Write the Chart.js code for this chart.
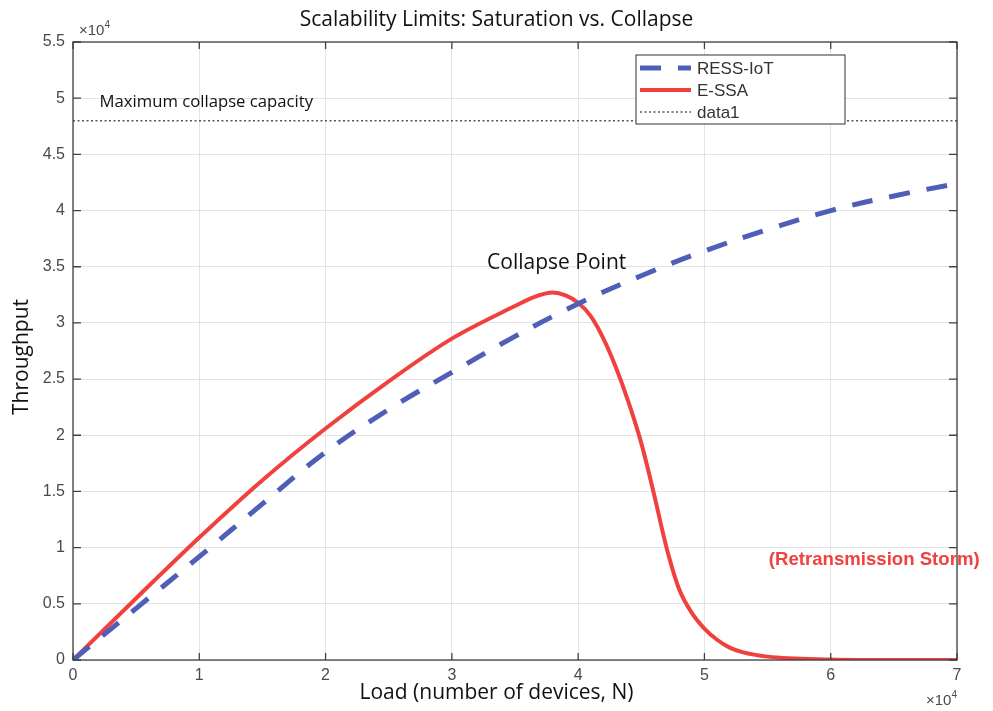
<!DOCTYPE html>
<html lang="en">
<head>
<meta charset="UTF-8">
<title>Scalability Limits: Saturation vs. Collapse</title>
<style>
    html, body { margin: 0; padding: 0; background: #fff; }
    #wrap { width: 993px; height: 711px; }
</style>
</head>
<body>
<div id="wrap"><canvas id="chart" width="993" height="711"></canvas></div>
<script src="https://cdn.jsdelivr.net/npm/chart.js"></script>
<script>
// RESS-IoT (dashed blue)
const ressLoad = [0, 5000, 10000, 15000, 20000, 25000, 30000, 35000, 40000, 45000, 50000, 55000, 60000, 65000, 70000];
const ressThroughput = [0, 4600, 9200, 13900, 18500, 22300, 25600, 28800, 31700, 34200, 36400, 38300, 40000, 41300, 42400];

// E-SSA (solid red) - rises, peaks, then collapses
const essaLoad = [0, 5000, 10000, 15000, 20000, 25000, 30000, 35000, 36500, 38000, 39000, 40000, 41000, 42000, 43000, 44000, 45000, 46000, 47000, 48000, 49000, 50000, 51000, 52000, 53000, 55000, 60000, 65000, 70000];
const essaThroughput = [0, 5500, 10900, 16000, 20600, 24800, 28600, 31500, 32300, 32700, 32450, 31800, 30600, 28600, 26000, 22900, 19300, 14800, 10000, 6300, 4200, 2800, 1800, 1100, 700, 300, 50, 0, 0];

// data1 (dotted capacity line)
const capacityLoad = [0, 70000];
const capacityThroughput = [48000, 48000];

const xTickValues = [0, 10000, 20000, 30000, 40000, 50000, 60000, 70000];
const yTickValues = [0, 5000, 10000, 15000, 20000, 25000, 30000, 35000, 40000, 45000, 50000, 55000];

const seriesNames = ['RESS-IoT', 'E-SSA', 'data1'];

const chartTitle = 'Scalability Limits: Saturation vs. Collapse';
const xTitle = 'Load (number of devices, N)';
const yTitle = 'Throughput';

// text notes placed in data coordinates
const notes = [
    { text: 'Collapse Point', x: 38300, y: 35350, align: 'center', font: '21px "Open Sans"', color: '#111' },
    { text: 'Maximum collapse capacity', x: 2100, y: 49600, align: 'left', font: '16.7px "Open Sans"', color: '#111' },
    { text: '(Retransmission Storm)', x: 55100, y: 8900, align: 'left', font: 'bold 18.6px "Liberation Sans"', color: '#f0413e' }
];

const toPoints = (xs, ys) => xs.map((x, i) => ({ x: x, y: ys[i] }));

const BLUE = '#4f5fb8';
const RED = '#f0413e';
const DASH = [21, 17];
const TEXT_FONT = '21px "Open Sans"';

// draws x10^4 with a raised exponent, ending at xEnd
function drawExponent(ctx, xEnd, baseline) {
    ctx.font = '15px "Liberation Sans"';
    const w1 = ctx.measureText('\u00d710').width;
    ctx.font = '10px "Liberation Sans"';
    const w2 = ctx.measureText('4').width;
    ctx.font = '15px "Liberation Sans"';
    ctx.fillText('\u00d710', xEnd - w1 - w2, baseline);
    ctx.font = '10px "Liberation Sans"';
    ctx.fillText('4', xEnd - w2, baseline - 7);
}

// matlab style box, inward ticks, legend, titles, notes and exponents
const matlabFrame = {
    id: 'matlabFrame',
    afterDatasetsDraw(chart) {
        const ctx = chart.ctx;
        const a = chart.chartArea;
        const xs = chart.scales.x, ys = chart.scales.y;
        ctx.save();

        // box
        ctx.strokeStyle = '#404040';
        ctx.lineWidth = 1.3;
        ctx.strokeRect(a.left, a.top, a.right - a.left, a.bottom - a.top);

        // inward ticks
        ctx.beginPath();
        xTickValues.forEach(v => {
            const px = xs.getPixelForValue(v);
            ctx.moveTo(px, a.bottom); ctx.lineTo(px, a.bottom - 7);
            ctx.moveTo(px, a.top); ctx.lineTo(px, a.top + 7);
        });
        yTickValues.forEach(v => {
            const py = ys.getPixelForValue(v);
            ctx.moveTo(a.left, py); ctx.lineTo(a.left + 8, py);
            ctx.moveTo(a.right, py); ctx.lineTo(a.right - 8, py);
        });
        ctx.stroke();

        // titles
        ctx.fillStyle = '#111';
        ctx.font = TEXT_FONT;
        ctx.textAlign = 'center';
        ctx.textBaseline = 'middle';
        ctx.fillText(chartTitle, chart.width / 2, 20);
        ctx.fillText(xTitle, chart.width / 2, 693);
        ctx.save();
        ctx.translate(22, 357);
        ctx.rotate(-Math.PI / 2);
        ctx.fillText(yTitle, 0, 0);
        ctx.restore();

        // notes
        notes.forEach(n => {
            ctx.font = n.font;
            ctx.fillStyle = n.color;
            ctx.textAlign = n.align;
            ctx.textBaseline = 'middle';
            ctx.fillText(n.text, xs.getPixelForValue(n.x), ys.getPixelForValue(n.y));
        });

        // exponent labels
        ctx.fillStyle = '#4a4a4a';
        ctx.textAlign = 'left';
        ctx.textBaseline = 'alphabetic';
        drawExponent(ctx, a.left + 37, a.top - 7);
        drawExponent(ctx, a.right, a.bottom + 45);

        // legend
        const lx = a.right - 321, ly = a.top + 13, lw = 209, lh = 69;
        ctx.fillStyle = '#fff';
        ctx.fillRect(lx, ly, lw, lh);
        ctx.strokeStyle = '#333';
        ctx.lineWidth = 1;
        ctx.strokeRect(lx, ly, lw, lh);
        chart.data.datasets.forEach((ds, i) => {
            const ry = ly + 13 + i * 22;
            ctx.beginPath();
            ctx.strokeStyle = ds.borderColor;
            ctx.lineWidth = ds.borderWidth;
            ctx.setLineDash(ds.borderDash || []);
            ctx.moveTo(lx + 4, ry);
            ctx.lineTo(lx + 55, ry);
            ctx.stroke();
            ctx.setLineDash([]);
            ctx.fillStyle = '#333';
            ctx.font = '17px "Liberation Sans"';
            ctx.textBaseline = 'middle';
            ctx.fillText(ds.label, lx + 61, ry + 1);
        });
        ctx.restore();
    }
};

new Chart(document.getElementById('chart'), {
    type: 'line',
    data: {
        datasets: [
            {
                label: seriesNames[0],
                data: toPoints(ressLoad, ressThroughput),
                borderColor: BLUE,
                borderWidth: 5,
                borderDash: DASH,
                pointRadius: 0,
                tension: 0.4
            },
            {
                label: seriesNames[1],
                data: toPoints(essaLoad, essaThroughput),
                borderColor: RED,
                borderWidth: 4,
                pointRadius: 0,
                cubicInterpolationMode: 'monotone'
            },
            {
                label: seriesNames[2],
                data: toPoints(capacityLoad, capacityThroughput),
                borderColor: '#555',
                borderWidth: 1.5,
                borderDash: [2, 2.5],
                pointRadius: 0
            }
        ]
    },
    options: {
        responsive: false,
        animation: false,
        devicePixelRatio: 1,
        layout: { padding: { left: 0, right: 36, top: 42, bottom: 27 } },
        plugins: {
            legend: { display: false },
            tooltip: { enabled: false },
            title: { display: false }
        },
        scales: {
            x: {
                type: 'linear',
                min: 0,
                max: 70000,
                afterBuildTicks: s => { s.ticks = xTickValues.map(v => ({ value: v })); },
                afterFit: s => { s.height = 24; },
                ticks: {
                    callback: v => String(v / 10000),
                    color: '#4a4a4a',
                    font: { family: 'Liberation Sans', size: 16 },
                    padding: 6,
                    maxRotation: 0
                },
                grid: { color: '#e3e3e3', drawTicks: false },
                border: { display: false }
            },
            y: {
                min: 0,
                max: 55000,
                afterBuildTicks: s => { s.ticks = yTickValues.map(v => ({ value: v })); },
                afterFit: s => { s.width = 73; },
                ticks: {
                    callback: v => String(v / 10000),
                    color: '#4a4a4a',
                    font: { family: 'Liberation Sans', size: 16 },
                    padding: 8
                },
                grid: { color: '#e3e3e3', drawTicks: false },
                border: { display: false }
            }
        }
    },
    plugins: [matlabFrame]
});
</script>
</body>
</html>
